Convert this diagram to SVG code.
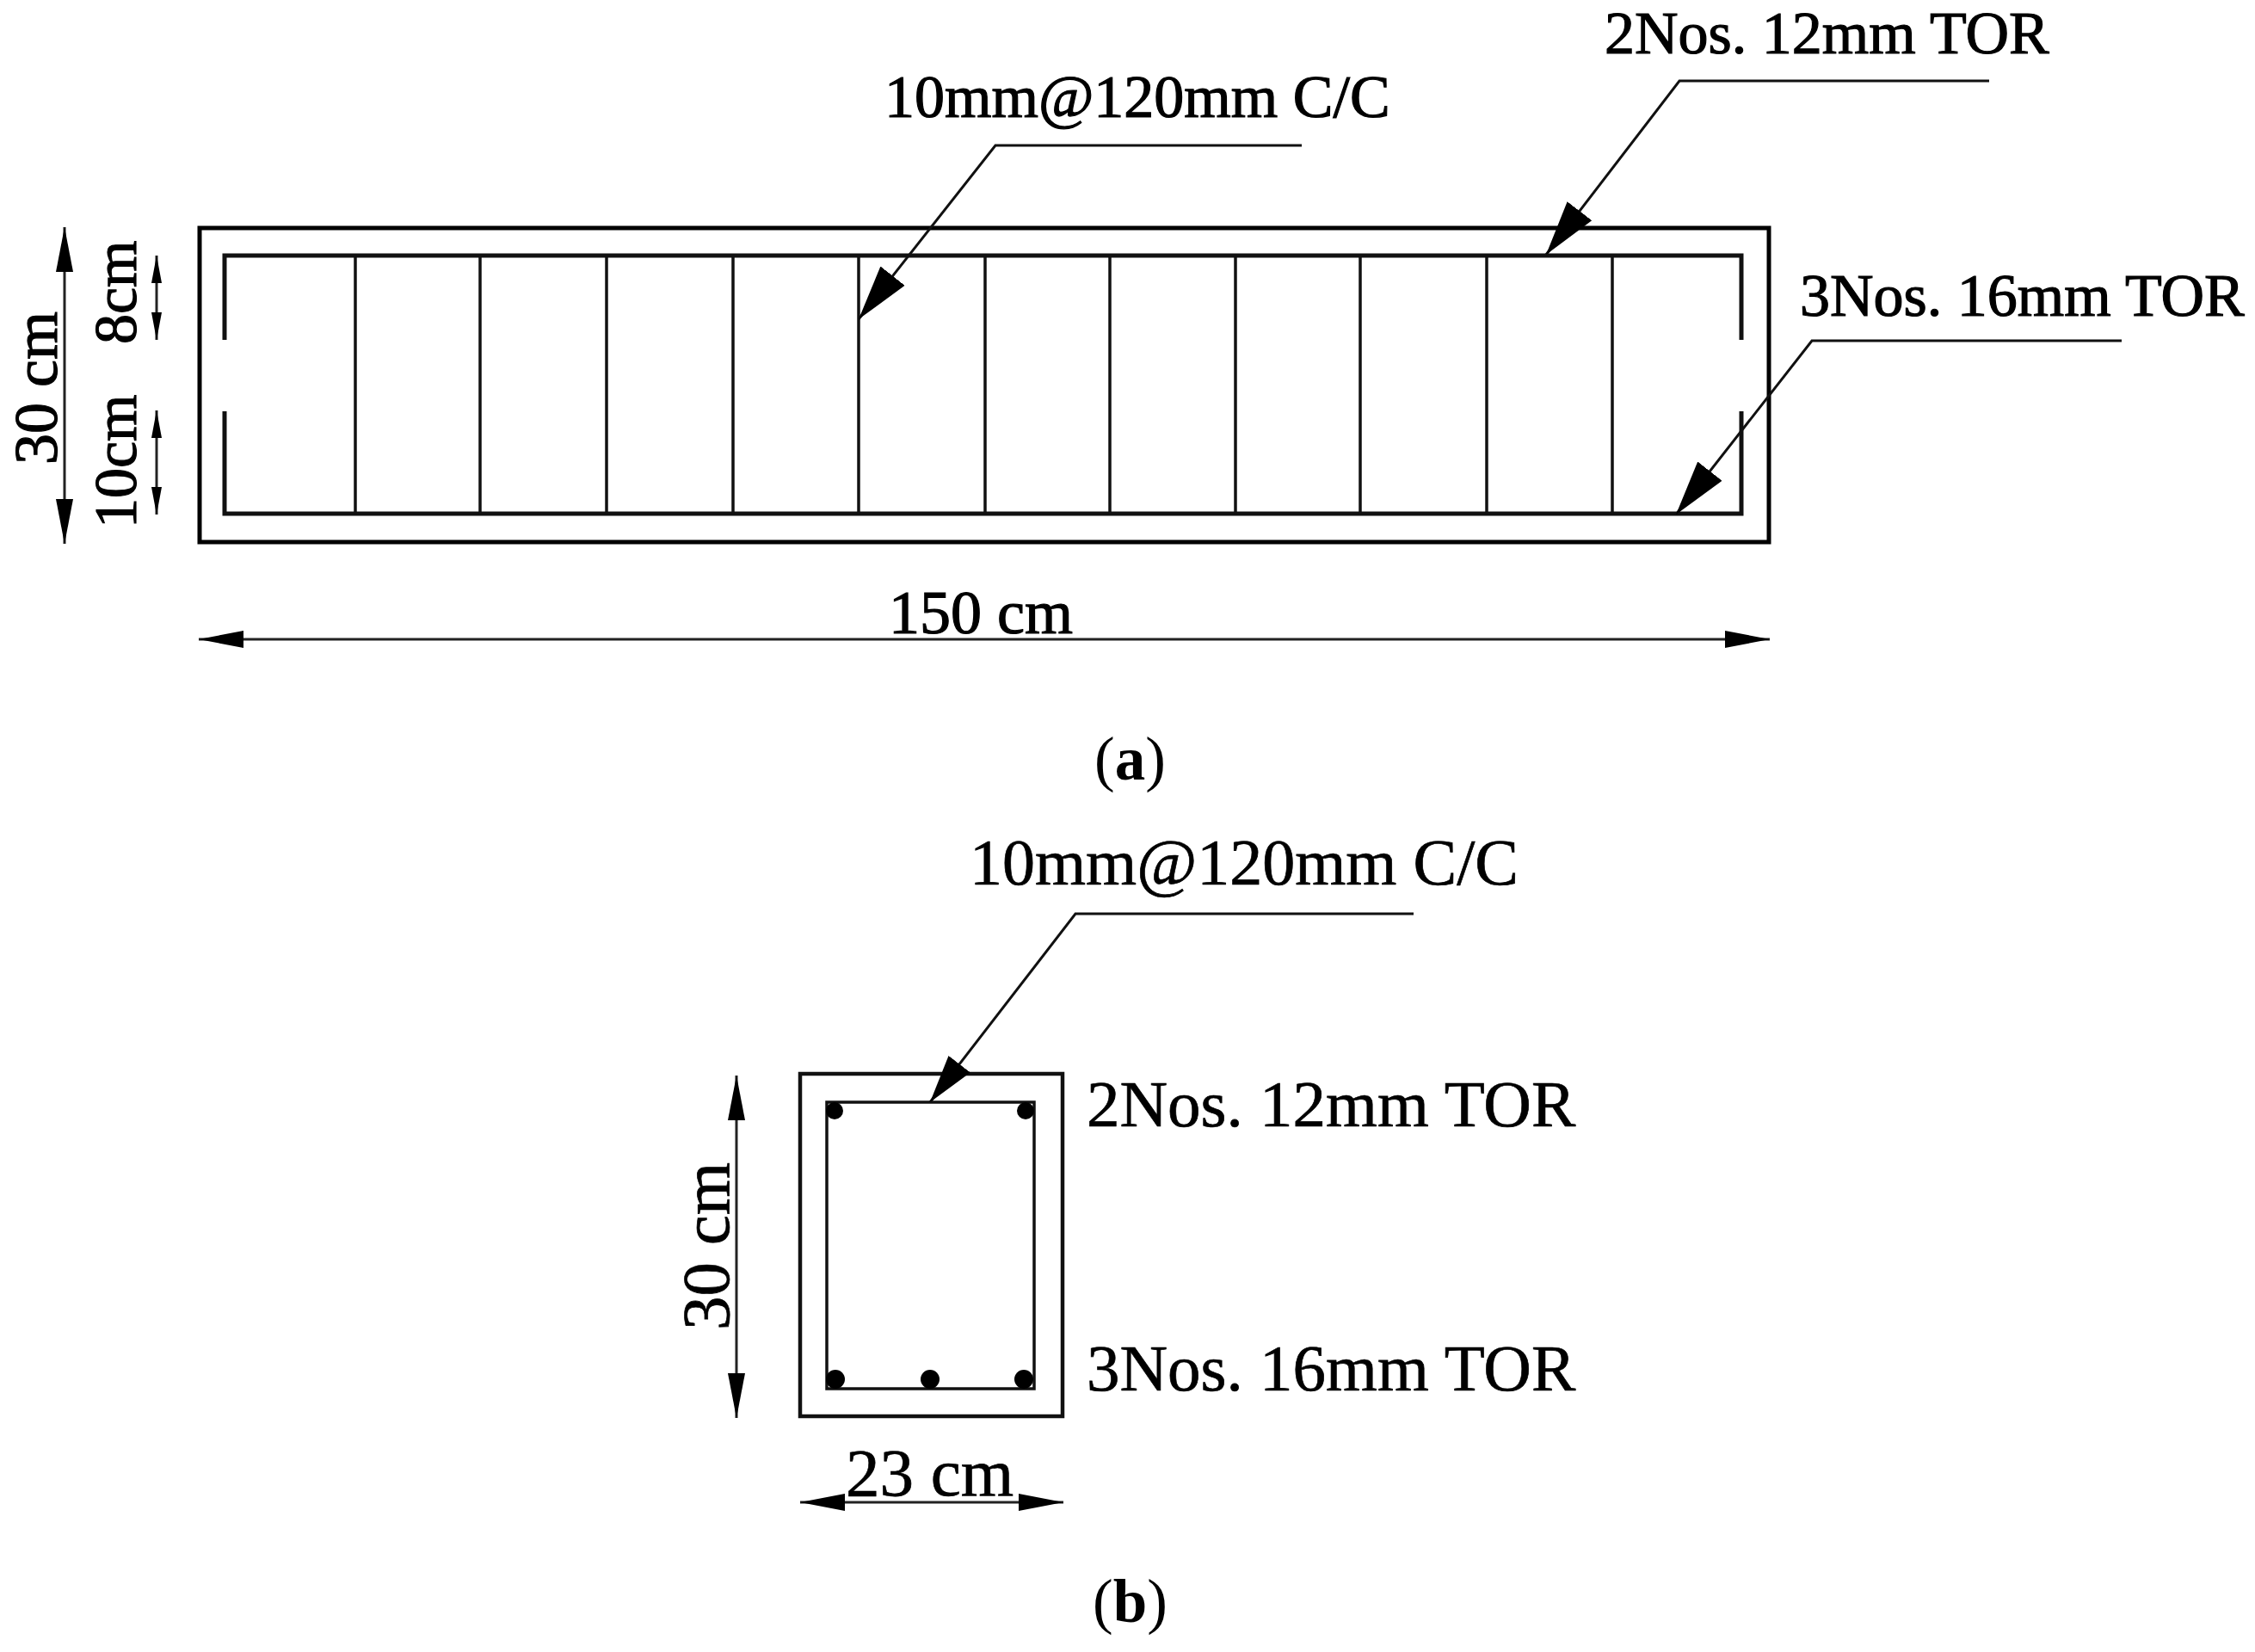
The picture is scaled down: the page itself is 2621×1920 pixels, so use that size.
<svg xmlns="http://www.w3.org/2000/svg" width="2621" height="1920" viewBox="0 0 2621 1920">
<style>
text{font-family:"Liberation Serif","Times New Roman",serif;fill:#000;stroke:#000;stroke-width:.7}
.t{font-size:70px;stroke-width:1.2}.u{font-size:76px}.c{font-size:72px;stroke-width:1.2}
.s{font-size:70px;stroke-width:1.2}.b{font-size:77px}.w{font-size:79px}
.cap{font-size:71px;stroke-width:0}
.o{fill:none;stroke:#000;stroke-width:5}
.r{fill:none;stroke:#111;stroke-width:5}
.p{fill:none;stroke:#111;stroke-width:4.5}
.v{fill:none;stroke:#111;stroke-width:3.5}
.l{fill:none;stroke:#111;stroke-width:3}
.d{fill:none;stroke:#222;stroke-width:3}
</style>
<defs>
<marker id="lead" markerUnits="userSpaceOnUse" markerWidth="70" markerHeight="44" refX="64" refY="22" orient="auto"><path d="M0 4L64 22L0 40Z"/></marker>
<marker id="lead2" markerUnits="userSpaceOnUse" markerWidth="70" markerHeight="44" refX="56" refY="22" orient="auto"><path d="M0 6L56 22L0 38Z"/></marker>
<marker id="dimL" markerUnits="userSpaceOnUse" markerWidth="60" markerHeight="26" refX="52" refY="12" orient="auto-start-reverse"><path d="M0 2L52 12L0 22Z"/></marker>
<marker id="dimLs" markerUnits="userSpaceOnUse" markerWidth="40" markerHeight="18" refX="32" refY="9" orient="auto-start-reverse"><path d="M0 3L32 9L0 15Z"/></marker>
</defs>
<rect width="2621" height="1920" fill="#fff"/>
<g id="beam">
<rect class="o" x="232" y="265" width="1824" height="365"/>
<path class="r" d="M261 395V297H2024V395M261 478V597H2024V478"/>
<path class="v" d="M413 297V597M558 297V597M705 297V597M852 297V597M998 297V597M1145 297V597M1290 297V597M1436 297V597M1581 297V597M1728 297V597M1874 297V597"/>
</g>
<g id="section">
<rect class="p" x="930" y="1248" width="305" height="398"/>
<rect class="v" x="961" y="1281" width="241" height="333"/>
<circle cx="970" cy="1291" r="10"/><circle cx="1192" cy="1291" r="10"/>
<circle cx="971" cy="1603" r="11"/><circle cx="1081" cy="1603" r="11"/><circle cx="1190" cy="1603" r="11"/>
</g>
<g id="connectors">
<path class="l" marker-end="url(#lead)" d="M1513 169H1157L998 371"/>
<path class="l" marker-end="url(#lead)" d="M2312 94H1952L1797 296"/>
<path class="l" marker-end="url(#lead)" d="M2466 396H2106L1948 598"/>
<path class="l" marker-end="url(#lead2)" d="M1643 1062H1250L1081 1281"/>
<path class="d" marker-start="url(#dimL)" marker-end="url(#dimL)" d="M75 264V632"/>
<path class="d" marker-start="url(#dimLs)" marker-end="url(#dimLs)" d="M182 297V395"/>
<path class="d" marker-start="url(#dimLs)" marker-end="url(#dimLs)" d="M182 477V598"/>
<path class="d" marker-start="url(#dimL)" marker-end="url(#dimL)" d="M231 743H2057"/>
<path class="d" marker-start="url(#dimL)" marker-end="url(#dimL)" d="M856 1250V1648"/>
<path class="d" marker-start="url(#dimL)" marker-end="url(#dimL)" d="M930 1746H1236"/>
</g>
<g id="labels">
<text class="t" x="1028" y="136">10mm@120mm C/C</text>
<text class="s" x="1865" y="62">2Nos. 12mm TOR</text>
<text class="s" x="2092" y="367">3Nos. 16mm TOR</text>
<text class="c" x="1033" y="736">150 cm</text>
<text class="c" transform="translate(66 540) rotate(-90)">30 cm</text>
<text class="s" transform="translate(158 400) rotate(-90)">8cm</text>
<text class="s" transform="translate(158 614) rotate(-90)">10cm</text>
<text class="u" x="1127" y="1028">10mm@120mm C/C</text>
<text class="b" x="1263" y="1309">2Nos. 12mm TOR</text>
<text class="b" x="1263" y="1616">3Nos. 16mm TOR</text>
<text class="w" transform="translate(847 1546) rotate(-90)">30 cm</text>
<text class="w" x="983" y="1738">23 cm</text>
<text class="cap" x="1272" y="906">(<tspan font-weight="bold">a</tspan>)</text>
<text class="cap" x="1270" y="1885">(<tspan font-weight="bold">b</tspan>)</text>
</g>
</svg>
